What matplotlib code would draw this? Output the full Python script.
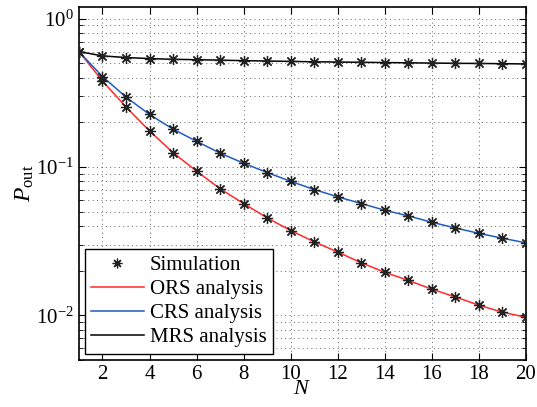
import matplotlib
matplotlib.use("Agg")
import matplotlib.pyplot as plt
import numpy as np
from matplotlib.ticker import LogLocator, NullFormatter, FixedLocator
from matplotlib.lines import Line2D

plt.rcParams['font.family'] = ['Liberation Serif', 'DejaVu Serif']
plt.rcParams['mathtext.fontset'] = 'custom'
plt.rcParams['mathtext.rm'] = 'Liberation Serif'
plt.rcParams['mathtext.it'] = 'Liberation Serif:italic'

N = list(range(1, 21))
ors = [0.60, 0.380, 0.254, 0.175, 0.125, 0.0937, 0.0713, 0.0567, 0.0454, 0.0373,
       0.0313, 0.0267, 0.0226, 0.0195, 0.0172, 0.0150, 0.0133, 0.0117, 0.0105, 0.0097]
crs = [0.60, 0.407, 0.296, 0.226, 0.180, 0.149, 0.124, 0.106, 0.0918, 0.080,
       0.0705, 0.0629, 0.0567, 0.0511, 0.0468, 0.0424, 0.0388, 0.0357, 0.0331, 0.0308]
mrs = [0.60, 0.561, 0.547, 0.538, 0.532, 0.529, 0.525, 0.521, 0.518, 0.515,
       0.512, 0.510, 0.508, 0.506, 0.504, 0.502, 0.500, 0.499, 0.497, 0.495]
xticks = [2, 4, 6, 8, 10, 12, 14, 16, 18, 20]

fig = plt.figure(figsize=(5.37, 4.07), dpi=100)
ax = fig.add_axes([0.147, 0.1155, 0.8325, 0.8675])

red = '#ff2a2a'
blue = '#1f5cbf'
ast = (8, 2, 0)
ax.plot(N, ors, color=red, lw=1.1, zorder=3)
ax.plot(N, crs, color=blue, lw=1.1, zorder=3)
ax.plot(N, mrs, color='black', lw=1.1, zorder=3)
for s in (ors, crs, mrs):
    ax.plot(N, s, ls='none', marker=ast, color='#222222', ms=8, mew=0.9, zorder=4)

ax.set_yscale('log')
ax.set_xlim(1, 20)
ax.set_ylim(0.005, 1.2)
ax.xaxis.set_major_locator(FixedLocator(xticks))
ax.yaxis.set_major_locator(LogLocator(base=10, numticks=10))
ax.yaxis.set_minor_locator(LogLocator(base=10, subs=np.arange(2, 10), numticks=20))
ax.yaxis.set_minor_formatter(NullFormatter())

ax.grid(True, which='major', ls=(0, (1, 3.5)), color='#666666', lw=0.7)
ax.grid(True, which='minor', axis='y', ls=(0, (1, 3.5)), color='#666666', lw=0.7)
ax.tick_params(which='both', direction='in', top=True, right=True, labelsize=15)
ax.tick_params(which='major', length=5, width=0.8)
ax.tick_params(which='minor', length=3, width=0.6)
for sp in ax.spines.values():
    sp.set_linewidth(1.2)

ax.set_xlabel('$N$', fontsize=16, labelpad=-3)
ax.set_ylabel(r'$P_{\mathrm{out}}$', fontsize=17, labelpad=0)

handles = [
    Line2D([], [], ls='none', marker=ast, color='#222222', ms=7, mew=0.9),
    Line2D([], [], color=red, lw=1.1),
    Line2D([], [], color=blue, lw=1.1),
    Line2D([], [], color='black', lw=1.1),
]
labels = ['Simulation', 'ORS analysis', 'CRS analysis', 'MRS analysis']
leg = ax.legend(handles, labels, loc='lower left', fontsize=15, fancybox=False,
                framealpha=1, edgecolor='black', borderpad=0.3, labelspacing=0.22,
                handlelength=2.5, handletextpad=0.3, borderaxespad=0.3)
leg.get_frame().set_linewidth(1.0)

fig.savefig('out.png', dpi=100)
